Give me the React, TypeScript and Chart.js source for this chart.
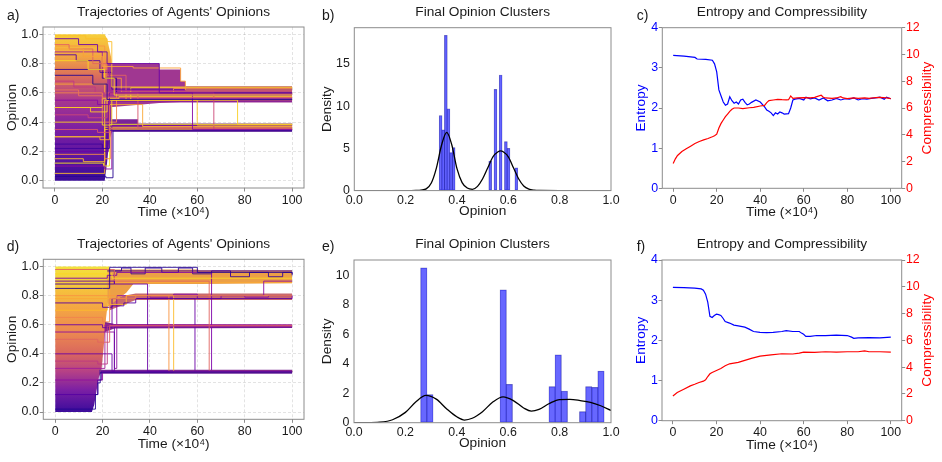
import React, { useEffect, useRef } from 'react';
import { Chart, registerables } from 'chart.js';

Chart.register(...registerables);

const FONT = "'Liberation Sans', Arial, Helvetica, sans-serif";
const TXT = '#1a1a1a';
const FRAME = '#8c8c8c';
const GRID = 'rgba(0,0,0,0.14)';

// ---------- tick values ----------
const timeTicks = [0, 20, 40, 60, 80, 100];
const opinionTicks = [0, 0.2, 0.4, 0.6, 0.8, 1.0];
const densityTicksB = [0, 5, 10, 15];
const densityTicksE = [0, 2, 4, 6, 8, 10];
const entropyTicks = [0, 1, 2, 3, 4];
const compressTicks = [0, 2, 4, 6, 8, 10, 12];

// ---------- panel a: trajectories ----------
const aEarlyT = [0, 21, 22, 23, 24];
const aEarlyHi = [1.0, 1.0, 0.97, 0.9, 0.82];
const aEarlyLo = [0.0, 0.0, 0.12, 0.28, 0.33];
const aUpperT = [22, 44, 44, 53, 53, 55, 55, 100];
const aUpperHi = [0.8, 0.8, 0.76, 0.76, 0.68, 0.68, 0.645, 0.645];
const aUpperLo = [0.5, 0.53, 0.53, 0.535, 0.535, 0.535, 0.535, 0.535];
const aLowerT = [22, 24, 35, 35, 100];
const aLowerHi = [0.36, 0.42, 0.42, 0.39, 0.39];
const aLowerLo = [0.3, 0.335, 0.335, 0.335, 0.335];
const aPaths = [
  [0, 0.97, 10, 0.93, 18, 0.88, 22, 0.8, 44, 0.6, 100, 0.6],
  [0, 0.9, 12, 0.85, 20, 0.78, 33, 0.77, 53, 0.68, 55, 0.62, 100, 0.62],
  [0, 0.82, 14, 0.76, 21, 0.7, 25, 0.585, 100, 0.585],
  [0, 0.72, 16, 0.66, 22, 0.555, 100, 0.555],
  [0, 0.62, 10, 0.58, 20, 0.57, 100, 0.57],
  [0, 0.55, 18, 0.52, 23, 0.6, 58, 0.35, 100, 0.35],
  [0, 0.5, 15, 0.47, 22, 0.55, 60, 0.38, 100, 0.38],
  [0, 0.45, 14, 0.43, 22, 0.6, 67, 0.35, 100, 0.35],
  [0, 0.4, 20, 0.38, 24, 0.55, 77, 0.385, 100, 0.385],
  [0, 0.35, 18, 0.33, 23, 0.6, 35, 0.36, 100, 0.36],
  [0, 0.3, 19, 0.28, 23, 0.52, 37, 0.37, 100, 0.37],
  [0, 0.25, 20, 0.22, 23, 0.345, 100, 0.345],
  [0, 0.18, 21, 0.15, 23.5, 0.355, 100, 0.355],
  [0, 0.1, 21, 0.08, 24, 0.375, 100, 0.375],
  [0, 0.03, 21.5, 0.02, 24.5, 0.34, 100, 0.34],
  [0, 0.99, 13, 0.97, 22, 0.95, 24, 0.64, 100, 0.64],
  [0, 0.88, 20, 0.75, 23, 0.615, 100, 0.615],
  [0, 0.76, 20, 0.7, 26, 0.6, 100, 0.6],
  [0, 0.6, 20, 0.4, 26, 0.6, 50, 0.63, 100, 0.63],
  [0, 0.2, 21, 0.2, 22.5, 0.545, 100, 0.545],
  [0, 0.93, 6, 0.9, 16, 0.8, 22, 0.72, 30, 0.595, 100, 0.595],
  [0, 0.12, 20.5, 0.1, 23, 0.385, 100, 0.385],
  [0, 0.68, 8, 0.64, 17, 0.6, 23, 0.59, 100, 0.59],
  [0, 0.86, 9, 0.82, 19, 0.74, 24, 0.625, 100, 0.625],
  [0, 0.15, 12, 0.13, 21, 0.365, 100, 0.365],
  [0, 0.66, 21, 0.6, 30, 0.55, 100, 0.55],
  [0, 0.5, 20, 0.56, 27, 0.575, 100, 0.575],
  [0, 0.92, 21, 0.7, 28, 0.605, 100, 0.605],
  [0, 0.3, 21, 0.55, 32, 0.635, 100, 0.635],
  [0, 0.05, 21, 0.35, 100, 0.35],
  [0, 0.22, 22, 0.38, 100, 0.38],
];
const aPathShade = [0.2, 0.78, 0.92, 0.05, 0.65, 0.28, 0.88, 0.5, 0.9, 0.55, 0.8, 0.1, 0.72, 0.3, 0.05, 0.86, 0.38, 0.08, 0.7, 0.2, 0.6, 0.95, 0.45, 0.15, 0.85, 0.8, 0.9, 0.75, 0.92, 0.85, 0.1];

// ---------- panel d: trajectories ----------
const dEarlyT = [0, 15.5, 16.5, 17.5, 18.5, 19.5, 20.5, 21.5, 23];
const dEarlyHi = [1, 1, 1, 1, 1, 1, 1, 1, 1];
const dEarlyLo = [0, 0, 0.05, 0.15, 0.24, 0.28, 0.45, 0.65, 0.85];
const dTopT = [22, 30, 33, 60, 61, 100];
const dTopHi = [0.98, 0.98, 0.98, 0.98, 0.975, 0.975];
const dTopLo = [0.72, 0.82, 0.88, 0.88, 0.88, 0.885];
const d08T = [23, 34, 100];
const d08Hi = [0.78, 0.815, 0.815];
const d08Lo = [0.7, 0.77, 0.77];
const d06T = [21, 25, 100];
const d06Hi = [0.62, 0.605, 0.6];
const d06Lo = [0.55, 0.575, 0.578];
const d03T = [18.5, 100];
const d03Hi = [0.29, 0.29];
const d03Lo = [0.265, 0.265];
const dPaths = [
  [0, 0.02, 15.5, 0.02, 17, 0.12, 18, 0.2, 19, 0.27, 100, 0.27],
  [0, 0.12, 16, 0.12, 18, 0.22, 19.5, 0.28, 100, 0.28],
  [0, 0.22, 17, 0.22, 20, 0.27, 100, 0.27],
  [0, 0.35, 18, 0.33, 22, 0.59, 100, 0.59],
  [0, 0.5, 18, 0.48, 23, 0.595, 100, 0.595],
  [0, 0.65, 20, 0.62, 23, 0.78, 34, 0.8, 100, 0.8],
  [0, 0.75, 20, 0.72, 24, 0.73, 29, 0.75, 34, 0.78, 100, 0.78],
  [0, 0.85, 20, 0.85, 23, 0.995, 60, 0.96, 100, 0.95],
  [0, 0.95, 22, 0.95, 24, 0.92, 100, 0.92],
  [0, 0.9, 22, 0.9, 25, 0.88, 39, 0.28, 100, 0.28],
  [0, 0.8, 22, 0.8, 26, 0.78, 30, 0.8, 48, 0.28, 100, 0.28],
  [0, 0.7, 22, 0.74, 30, 0.8, 50, 0.275, 100, 0.275],
  [0, 0.6, 20, 0.58, 24, 0.78, 59, 0.28, 100, 0.28],
  [0, 0.98, 22, 0.98, 25, 0.9, 65, 0.28, 100, 0.28],
  [0, 0.92, 22, 0.94, 26, 0.96, 66, 0.28, 100, 0.28],
  [0, 0.4, 20, 0.4, 24, 0.28, 25, 0.585, 100, 0.585],
  [0, 0.88, 22, 0.88, 25, 0.97, 100, 0.97],
  [0, 0.3, 19, 0.3, 21, 0.6, 100, 0.6],
  [0, 0.55, 20, 0.55, 25, 0.3, 26, 0.8, 88, 0.9, 100, 0.9],
  [0, 0.78, 21, 0.78, 23, 0.89, 100, 0.89],
  [22, 0.97, 28, 0.99, 32, 0.95, 38, 0.99, 45, 0.96, 52, 0.99, 58, 0.95, 66, 0.97, 74, 0.93, 82, 0.96, 90, 0.93, 96, 0.96, 100, 0.94],
  [30, 0.8, 40, 0.79, 50, 0.81, 60, 0.78, 70, 0.8, 80, 0.79, 90, 0.8, 100, 0.78],
];
const dPathShade = [0.05, 0.15, 0.3, 0.45, 0.6, 0.7, 0.15, 0.05, 0.92, 0.2, 0.75, 0.85, 0.2, 0.6, 0.25, 0.2, 0.12, 0.35, 0.3, 0.8, 0.08, 0.25];

// ---------- panel b: histogram + KDE ----------
const bBinCenters = [0.3363, 0.3465, 0.3566, 0.3668, 0.377, 0.3871, 0.5295, 0.5499, 0.5702, 0.5905, 0.6007, 0.6312];
const bBinHeights = [8.9, 7.2, 18.4, 9.7, 4.5, 5.1, 3.5, 12.0, 13.7, 5.8, 5.0, 2.7];
const bBinWidth = 0.01017;
const bKdeX = [0, 0.1, 0.2, 0.24, 0.26, 0.28, 0.3, 0.32, 0.34, 0.36, 0.38, 0.4, 0.42, 0.44, 0.46, 0.48, 0.5, 0.52, 0.54, 0.56, 0.57, 0.58, 0.6, 0.62, 0.64, 0.66, 0.68, 0.7, 0.72, 0.8, 0.9, 1.0];
const bKdeY = [0, 0, 0, 0.02, 0.06, 0.2, 0.9, 2.7, 5.4, 6.9, 5.4, 2.6, 0.95, 0.3, 0.15, 0.5, 1.4, 2.7, 4.0, 4.6, 4.7, 4.6, 4.0, 2.7, 1.4, 0.55, 0.18, 0.05, 0.01, 0, 0, 0];

// ---------- panel e: histogram + KDE ----------
const eBinCenters = [0.2716, 0.2953, 0.5806, 0.6043, 0.7709, 0.7946, 0.8184, 0.8897, 0.9135, 0.9373, 0.961];
const eBinHeights = [10.5, 1.9, 9.0, 2.6, 2.45, 4.6, 2.15, 0.75, 2.45, 2.4, 3.5];
const eBinWidth = 0.02377;
const eKdeX = [0, 0.05, 0.1, 0.15, 0.2, 0.24, 0.28, 0.32, 0.36, 0.4, 0.43, 0.46, 0.5, 0.54, 0.58, 0.62, 0.66, 0.69, 0.72, 0.76, 0.8, 0.84, 0.88, 0.92, 0.96, 1.0];
const eKdeY = [0, 0, 0.03, 0.2, 0.7, 1.4, 1.85, 1.6, 0.95, 0.4, 0.18, 0.3, 0.75, 1.4, 1.75, 1.5, 1.0, 0.78, 0.9, 1.3, 1.57, 1.58, 1.5, 1.38, 1.15, 0.83];

// ---------- panel c: entropy / compressibility ----------
const cEntT = [0, 5, 10, 11, 15, 18, 19, 20, 21, 22, 23, 24, 25, 26, 27, 28, 29, 30, 31, 32, 33, 34, 35, 36, 38, 40, 42, 43, 44, 45, 46, 47, 48, 49, 50, 51, 53, 54, 55, 56, 58, 60, 61, 63, 65, 67, 69, 71, 73, 75, 77, 79, 81, 83, 85, 87, 89, 91, 93, 95, 97, 98, 100];
const cEnt = [3.31, 3.29, 3.26, 3.22, 3.21, 3.19, 3.1, 2.9, 2.45, 2.3, 2.15, 2.07, 2.1, 2.28, 2.18, 2.12, 2.15, 2.1, 2.2, 2.22, 2.14, 2.08, 2.1, 2.14, 2.2, 2.15, 2.03, 1.95, 1.92, 1.88, 1.81, 1.88, 1.85, 1.9, 1.88, 1.85, 1.86, 2.0, 2.2, 2.22, 2.24, 2.2, 2.27, 2.23, 2.25, 2.2, 2.25, 2.18, 2.2, 2.24, 2.2, 2.23, 2.22, 2.25, 2.2, 2.23, 2.22, 2.24, 2.25, 2.27, 2.22, 2.27, 2.23];
const cCompT = [0, 1, 2, 4, 6, 8, 10, 12, 14, 16, 18, 19, 20, 21, 22, 23, 24, 25, 26, 27, 28, 30, 32, 35, 37, 40, 42, 43, 44, 46, 48, 50, 52, 53, 54, 55, 57, 60, 63, 65, 68, 69, 70, 73, 75, 77, 78, 80, 83, 85, 88, 90, 93, 95, 98, 100];
const cComp = [1.85, 2.2, 2.45, 2.75, 2.95, 3.15, 3.35, 3.5, 3.62, 3.72, 3.85, 3.92, 4.05, 4.5, 4.85, 5.1, 5.35, 5.55, 5.75, 5.9, 6.0, 6.0, 5.95, 6.02, 6.05, 6.15, 6.2, 6.4, 6.55, 6.6, 6.65, 6.62, 6.6, 6.62, 6.9, 6.72, 6.75, 6.78, 6.75, 6.8, 6.95, 6.8, 6.75, 6.72, 6.75, 6.85, 6.75, 6.7, 6.75, 6.72, 6.75, 6.72, 6.78, 6.8, 6.75, 6.7];

// ---------- panel f: entropy / compressibility ----------
const fEntT = [0, 5, 10, 13, 14, 15, 16, 17, 18, 19, 20, 21, 22, 23, 24, 26, 28, 30, 33, 35, 37, 40, 43, 46, 50, 52, 55, 58, 59, 60, 61, 63, 66, 70, 75, 80, 82, 83, 85, 90, 95, 100];
const fEnt = [3.32, 3.31, 3.3, 3.28, 3.25, 3.15, 2.95, 2.6, 2.57, 2.62, 2.65, 2.64, 2.62, 2.55, 2.47, 2.43, 2.38, 2.36, 2.33, 2.28, 2.22, 2.2, 2.19, 2.2, 2.22, 2.24, 2.22, 2.22, 2.18, 2.15, 2.1, 2.1, 2.12, 2.12, 2.13, 2.12, 2.08, 2.05, 2.06, 2.07, 2.06, 2.08];
const fCompT = [0, 2, 5, 8, 10, 12, 14, 15, 16, 17, 18, 20, 22, 24, 26, 28, 30, 33, 36, 40, 45, 50, 55, 58, 60, 65, 70, 75, 80, 85, 88, 90, 95, 100];
const fComp = [1.85, 2.1, 2.35, 2.6, 2.72, 2.85, 2.95, 3.05, 3.3, 3.5, 3.6, 3.75, 3.9, 4.1, 4.25, 4.3, 4.35, 4.5, 4.65, 4.82, 4.92, 5.0, 4.98, 5.05, 5.12, 5.1, 5.15, 5.12, 5.15, 5.15, 5.22, 5.15, 5.15, 5.12];

// ---------- layout ----------
type Geo = { left: number; top: number; w: number; h: number; L: number; R: number; T: number; B: number };
const GEO: Record<string, Geo> = {
  a: { left: 0, top: 0, w: 310, h: 230, L: 43, R: 304, T: 27, B: 188 },
  b: { left: 310, top: 0, w: 320, h: 230, L: 44.3, R: 301, T: 27.7, B: 190.6 },
  c: { left: 630, top: 0, w: 312, h: 230, L: 32.3, R: 271.7, T: 27.7, B: 188.3 },
  d: { left: 0, top: 232, w: 310, h: 230, L: 43.3, R: 304, T: 27.3, B: 187.3 },
  e: { left: 310, top: 232, w: 320, h: 230, L: 44, R: 301, T: 28, B: 190.7 },
  f: { left: 630, top: 232, w: 312, h: 230, L: 32, R: 271.7, T: 28, B: 188.7 },
};
const PANEL_IDS = ['a', 'b', 'c', 'd', 'e', 'f'];
const LETTERS = [
  { t: 'a)', x: 7, y: 7.6 },
  { t: 'b)', x: 322, y: 7.6 },
  { t: 'c)', x: 636.7, y: 7.6 },
  { t: 'd)', x: 6.7, y: 238.8 },
  { t: 'e)', x: 322, y: 238.8 },
  { t: 'f)', x: 636.7, y: 238.8 },
];
const TITLE_PAD_TOP = 5.6;

const PLASMA = [[13, 8, 135], [76, 2, 161], [126, 3, 168], [169, 35, 149], [204, 71, 120], [230, 108, 92], [248, 149, 64], [253, 197, 39], [240, 249, 33]];
function plasma(t: number, a = 1): string {
  const x = Math.min(1, Math.max(0, t)) * (PLASMA.length - 1);
  const i = Math.min(PLASMA.length - 2, Math.floor(x));
  const f = x - i;
  const c0 = PLASMA[i], c1 = PLASMA[i + 1];
  const r = Math.round(c0[0] + (c1[0] - c0[0]) * f);
  const g = Math.round(c0[1] + (c1[1] - c0[1]) * f);
  const b = Math.round(c0[2] + (c1[2] - c0[2]) * f);
  return `rgba(${r},${g},${b},${a})`;
}

function vGrad(stops: [number, string][]) {
  return (ctx: any) => {
    const chart = ctx.chart;
    const ys = chart.scales && chart.scales.y;
    if (!chart.chartArea || !ys) return stops[0][1];
    const p0 = ys.getPixelForValue(0);
    const p1 = ys.getPixelForValue(1);
    const g = chart.ctx.createLinearGradient(0, p0, 0, p1);
    stops.forEach(([v, c]) => g.addColorStop(v, c));
    return g;
  };
}

const pts = (xs: number[], ys: number[]) => xs.map((x, i) => ({ x, y: ys[i] }));
const pathPts = (p: number[]) => {
  const out: { x: number; y: number }[] = [];
  for (let i = 0; i < p.length; i += 2) out.push({ x: p[i], y: p[i + 1] });
  return out;
};

function decor(right?: { text: string; color: string; x: number }) {
  return {
    id: 'decor',
    afterDatasetsDraw(chart: any) {
      const { ctx, chartArea: a } = chart;
      ctx.save();
      ctx.strokeStyle = FRAME;
      ctx.lineWidth = 1;
      ctx.strokeRect(a.left, a.top, a.right - a.left, a.bottom - a.top);
      if (right) {
        ctx.translate(right.x, (a.top + a.bottom) / 2);
        ctx.rotate(-Math.PI / 2);
        ctx.font = `13.7px ${FONT}`;
        ctx.fillStyle = right.color;
        ctx.textAlign = 'center';
        ctx.textBaseline = 'middle';
        ctx.fillText(right.text, 0, 0);
      }
      ctx.restore();
    },
  };
}

type AxisOpt = {
  min: number; max: number; ticks: number[]; fmt?: (v: number) => string; title?: string;
  tickLen: number; pad: number; grid: boolean; titlePad: number; color?: string;
};

function xScale(geo: Geo, o: AxisOpt) {
  return {
    type: 'linear', min: o.min, max: o.max, bounds: 'data', offset: false,
    afterBuildTicks: (s: any) => { s.ticks = o.ticks.map((v) => ({ value: v })); },
    afterFit: (s: any) => { s.height = geo.h - geo.B; },
    ticks: { color: TXT, font: { family: FONT, size: 12.4 }, padding: o.pad, maxRotation: 0, minRotation: 0, autoSkip: false, callback: (v: any) => (o.fmt ? o.fmt(Number(v)) : String(v)) },
    grid: { display: true, offset: false, drawOnChartArea: o.grid, color: GRID, lineWidth: 0.8, drawTicks: o.tickLen > 0, tickLength: o.tickLen, tickColor: FRAME, tickWidth: 1 },
    border: { display: false, dash: [3, 2] },
    title: { display: true, text: o.title, color: TXT, font: { family: FONT, size: 13.7, lineHeight: 1, weight: 'normal' }, padding: { top: 0, bottom: o.titlePad } },
  };
}

function yScale(geo: Geo, o: AxisOpt, pos: 'left' | 'right') {
  const col = o.color || TXT;
  return {
    type: 'linear', position: pos, min: o.min, max: o.max, bounds: 'data',
    afterBuildTicks: (s: any) => { s.ticks = o.ticks.map((v) => ({ value: v })); },
    afterFit: (s: any) => { s.width = pos === 'left' ? geo.L : geo.w - geo.R; },
    ticks: { color: col, font: { family: FONT, size: 12.4 }, padding: o.pad, autoSkip: false, callback: (v: any) => (o.fmt ? o.fmt(Number(v)) : String(v)) },
    grid: { display: true, drawOnChartArea: o.grid, color: GRID, lineWidth: 0.8, drawTicks: o.tickLen > 0, tickLength: o.tickLen, tickColor: FRAME, tickWidth: 1 },
    border: { display: false, dash: [3, 2] },
    title: { display: !!o.title && pos === 'left', text: o.title || '', color: col, font: { family: FONT, size: 13.7, lineHeight: 1, weight: 'normal' }, padding: { top: o.titlePad, bottom: 0 } },
  };
}

function baseOptions(geo: Geo, title: string, scales: any, hasRight: boolean) {
  return {
    responsive: false,
    maintainAspectRatio: false,
    animation: false,
    devicePixelRatio: 1,
    events: [],
    layout: { padding: { left: 0, top: 0, bottom: 0, right: hasRight ? 0 : geo.w - geo.R } },
    plugins: {
      legend: { display: false },
      tooltip: { enabled: false },
      title: {
        display: true, text: title, fullSize: false, align: 'center', color: TXT,
        font: { family: FONT, size: 13.7, lineHeight: 1, weight: 'normal' },
        padding: { top: TITLE_PAD_TOP, bottom: geo.T - TITLE_PAD_TOP - 13.7 },
      },
    },
    scales,
  };
}

type Band = { t: number[]; lo: number[]; hi: number[]; color: any; order: number };

function trajConfig(geo: Geo, bands: Band[], paths: number[][], shades: number[], lineAlpha: number) {
  const datasets: any[] = [];
  bands.forEach((b) => {
    datasets.push({ data: pts(b.t, b.lo), borderColor: 'rgba(0,0,0,0)', borderWidth: 0, pointRadius: 0, fill: false, order: b.order, tension: 0 });
    datasets.push({ data: pts(b.t, b.hi), borderColor: 'rgba(0,0,0,0)', borderWidth: 0, pointRadius: 0, fill: '-1', backgroundColor: b.color, order: b.order, tension: 0 });
  });
  paths.forEach((p, i) => {
    // horizontal at previous opinion until the next time, then a jump
    datasets.push({ data: pathPts(p), borderColor: plasma(shades[i], lineAlpha), borderWidth: 1, pointRadius: 0, fill: false, order: 0, stepped: 'before' });
  });
  const scales = {
    x: xScale(geo, { min: -5, max: 105, ticks: timeTicks, title: 'Time (×10⁴)', tickLen: 3.5, pad: 1.5, grid: true, titlePad: 10.8 }),
    y: yScale(geo, { min: -0.05, max: 1.05, ticks: opinionTicks, fmt: (v) => v.toFixed(1), title: 'Opinion', tickLen: 3.5, pad: 1, grid: true, titlePad: 4.9 }, 'left'),
  };
  return {
    type: 'line',
    data: { datasets },
    options: baseOptions(geo, "Trajectories of Agents' Opinions", scales, false),
    plugins: [decor()],
  };
}

function histConfig(geo: Geo, centers: number[], heights: number[], binW: number, kx: number[], ky: number[], yMax: number, yTicks: number[]) {
  const px = (geo.R - geo.L) * binW + 0.3;
  const datasets: any[] = [
    {
      type: 'bar', data: pts(centers, heights), barThickness: px, grouped: false,
      backgroundColor: 'rgba(45,45,255,0.72)', borderColor: 'rgba(20,20,120,0.55)', borderWidth: 0.5, borderSkipped: false, order: 1,
    },
    { type: 'line', data: pts(kx, ky), borderColor: '#000000', borderWidth: 1.3, pointRadius: 0, fill: false, cubicInterpolationMode: 'monotone', order: 0 },
  ];
  const scales = {
    x: xScale(geo, { min: 0, max: 1, ticks: opinionTicks, fmt: (v) => v.toFixed(1), title: 'Opinion', tickLen: 0, pad: 2.5, grid: false, titlePad: 11.5 }),
    y: yScale(geo, { min: 0, max: yMax, ticks: yTicks, title: 'Density', tickLen: 0, pad: 4.5, grid: false, titlePad: 10.2 }, 'left'),
  };
  return {
    type: 'line',
    data: { datasets },
    options: baseOptions(geo, 'Final Opinion Clusters', scales, false),
    plugins: [decor()],
  };
}

function entConfig(geo: Geo, et: number[], ev: number[], ct: number[], cv: number[], titlePadX: number, rightX: number) {
  const datasets: any[] = [
    { data: pts(et, ev), yAxisID: 'y', borderColor: '#0000ff', borderWidth: 1.2, pointRadius: 0, fill: false, tension: 0, order: 1 },
    { data: pts(ct, cv), yAxisID: 'y2', borderColor: '#ff0000', borderWidth: 1.2, pointRadius: 0, fill: false, tension: 0, order: 0 },
  ];
  const scales = {
    x: xScale(geo, { min: -5, max: 105, ticks: timeTicks, title: 'Time (×10⁴)', tickLen: 3.5, pad: 1, grid: false, titlePad: titlePadX }),
    y: yScale(geo, { min: 0, max: 4, ticks: entropyTicks, title: 'Entropy', tickLen: 3.5, pad: 0.7, grid: false, titlePad: 4.4, color: '#0000ff' }, 'left'),
    y2: yScale(geo, { min: 0, max: 12, ticks: compressTicks, tickLen: 3.5, pad: 0.7, grid: false, titlePad: 0, color: '#ff0000' }, 'right'),
  };
  return {
    type: 'line',
    data: { datasets },
    options: baseOptions(geo, 'Entropy and Compressibility', scales, true),
    plugins: [decor({ text: 'Compressibility', color: '#ff0000', x: rightX })],
  };
}

export default function App() {
  const canvases = useRef<(HTMLCanvasElement | null)[]>([]);

  useEffect(() => {
    const gradA = vGrad([[1.0, '#f7cf3a'], [0.85, '#f2a642'], [0.7, '#d8685e'], [0.55, '#a8378f'], [0.35, '#7a1fa3'], [0.15, '#5a14a0'], [0.0, '#3a0c98']]);
    const gradD = vGrad([[1.0, '#f4e23c'], [0.85, '#f6c43c'], [0.7, '#f3a344'], [0.55, '#ec8a50'], [0.4, '#d9665e'], [0.28, '#b64186'], [0.15, '#7b1fa4'], [0.0, '#3b0c9b']]);

    const cfgs: any[] = [
      trajConfig(GEO.a, [
        { t: aEarlyT, lo: aEarlyLo, hi: aEarlyHi, color: gradA, order: 3 },
        { t: aUpperT, lo: aUpperLo, hi: aUpperHi, color: 'rgb(160,55,145)', order: 2 },
        { t: aLowerT, lo: aLowerLo, hi: aLowerHi, color: 'rgb(122,36,152)', order: 2 },
      ], aPaths, aPathShade, 0.9),
      histConfig(GEO.b, bBinCenters, bBinHeights, bBinWidth, bKdeX, bKdeY, 19.3, densityTicksB),
      entConfig(GEO.c, cEntT, cEnt, cCompT, cComp, 10.8, 297.5),
      trajConfig(GEO.d, [
        { t: dEarlyT, lo: dEarlyLo, hi: dEarlyHi, color: gradD, order: 3 },
        { t: dTopT, lo: dTopLo, hi: dTopHi, color: 'rgb(236,160,70)', order: 2 },
        { t: d08T, lo: d08Lo, hi: d08Hi, color: 'rgb(200,105,110)', order: 2 },
        { t: d06T, lo: d06Lo, hi: d06Hi, color: 'rgb(125,40,140)', order: 2 },
        { t: d03T, lo: d03Lo, hi: d03Hi, color: 'rgb(125,45,148)', order: 2 },
      ], dPaths, dPathShade, 0.9),
      histConfig(GEO.e, eBinCenters, eBinHeights, eBinWidth, eKdeX, eKdeY, 11.03, densityTicksE),
      entConfig(GEO.f, fEntT, fEnt, fCompT, fComp, 10.3, 297.2),
    ];
    const charts: Chart[] = [];
    cfgs.forEach((cfg, i) => {
      const cv = canvases.current[i];
      if (cv) charts.push(new Chart(cv, cfg));
    });
    return () => charts.forEach((c) => c.destroy());
  }, []);

  return (
    <div style={{ position: 'absolute', left: 0, top: 0, width: 942, height: 462, background: '#ffffff', overflow: 'hidden' }}>
      {PANEL_IDS.map((id, i) => {
        const g = GEO[id];
        return (
          <canvas
            key={id}
            ref={(el) => { canvases.current[i] = el; }}
            width={g.w}
            height={g.h}
            style={{ position: 'absolute', left: g.left, top: g.top, width: g.w, height: g.h }}
          />
        );
      })}
      {LETTERS.map((l) => (
        <span
          key={l.t}
          style={{ position: 'absolute', left: l.x, top: l.y, fontFamily: FONT, fontSize: 14, lineHeight: '14px', color: TXT, whiteSpace: 'nowrap' }}
        >
          {l.t}
        </span>
      ))}
    </div>
  );
}
